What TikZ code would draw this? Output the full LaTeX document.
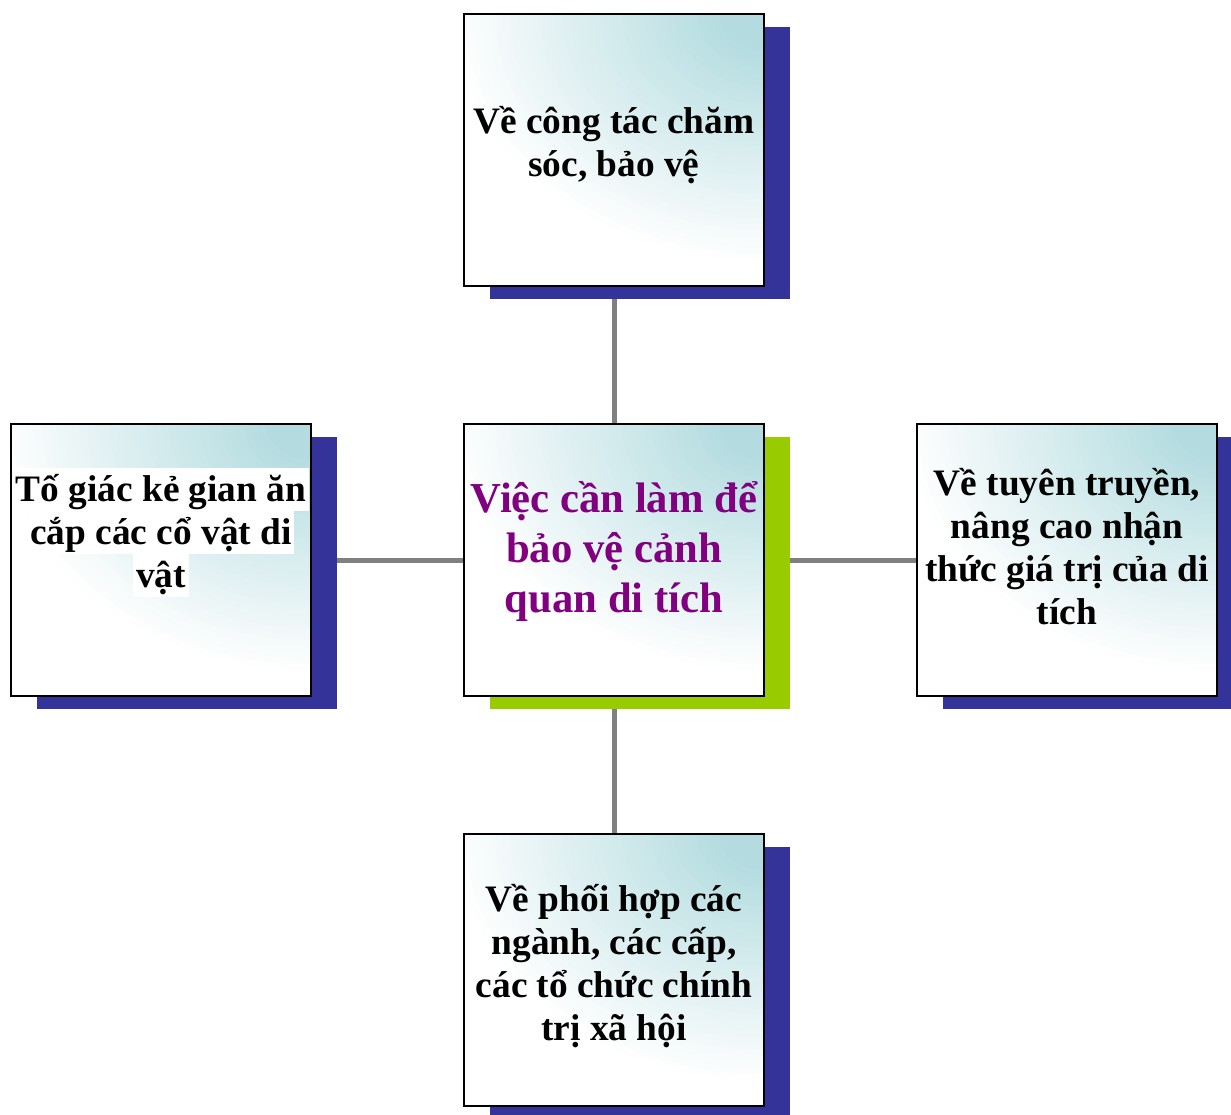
\documentclass[tikz,border=0pt]{standalone}
\usepackage{fontspec}
\setmainfont{Liberation Serif}
\usepackage{xcolor}
\usepackage{tikz}
\usetikzlibrary{positioning,shadows,backgrounds}

\definecolor{glowteal}{RGB}{180,220,224}
\definecolor{navyshadow}{RGB}{51,51,153}
\definecolor{limeshadow}{RGB}{153,204,0}
\definecolor{linkgray}{RGB}{128,128,128}
\definecolor{hubpurple}{RGB}{128,0,128}

\setlength{\fboxsep}{0pt}
\newcommand{\rowstrut}{\rule[-.21\baselineskip]{0pt}{\baselineskip}}
\newcommand{\whiterow}[1]{\colorbox{white}{\kern2pt\rowstrut#1\kern2pt}}

\tikzset{
	card/.style = {draw, line width=1.3pt, fill=white, minimum width=225.2pt, minimum height=204.2pt,
		path picture={
			\foreach \r [evaluate=\r as \pct using {min(100,max(0,(210-\r)/1.8))}] in {210,205,...,5}
				\fill[glowteal!\pct!white] (path picture bounding box.north east) ellipse [x radius=1.12*\r pt, y radius=0.9*\r pt];
		},
		general shadow={fill=#1, shadow xshift=19.5pt, shadow yshift=-9.75pt}},
	card/.default = navyshadow,
	caption/.style = {font=\fontsize{28}{32.25}\selectfont\bfseries, align=center, inner sep=0pt},
	hubcaption/.style = {caption, font=\fontsize{32}{37.5}\selectfont\bfseries, text=hubpurple},
	link/.style = {line width=3.75pt, linkgray}
}

\begin{document}
\begin{tikzpicture}
	\useasboundingbox (0,0) rectangle (923.25pt,-835.5pt);
	\node[card=limeshadow] (hub) at (460.5pt,-420pt) {};
	\node[card, above=102pt of hub] (care) {};
	\node[card, below=102pt of hub] (join) {};
	\node[card, left=113.25pt of hub] (report) {};
	\node[card, right=113.25pt of hub] (spread) {};
	\begin{scope}[on background layer]
	\foreach \n in {care,join,report,spread}
		\draw[link] (hub.center) -- (\n.center);
	\end{scope}
	% captions
	\node[hubcaption] (hub-text) at ([yshift=8.65pt]hub) {\rowstrut Việc cần làm để\\\rowstrut bảo vệ cảnh\\\rowstrut quan di tích};
	\node[caption] (care-text) at ([yshift=5.25pt]care) {\rowstrut Về công tác chăm\\\rowstrut sóc, bảo vệ};
	\node[caption] (report-text) at ([yshift=21pt]report) {\whiterow{Tố giác kẻ gian ăn}\\\whiterow{cắp các cổ vật di}\\\whiterow{vật}};
	\node[caption] (spread-text) at ([yshift=9pt]spread) {\rowstrut Về tuyên truyền,\\\rowstrut nâng cao nhận\\\rowstrut thức giá trị của di\\\rowstrut tích};
	\node[caption] (join-text) at ([yshift=4.5pt]join) {\rowstrut Về phối hợp các\\\rowstrut ngành, các cấp,\\\rowstrut các tổ chức chính\\\rowstrut trị xã hội};
\end{tikzpicture}
\end{document}
